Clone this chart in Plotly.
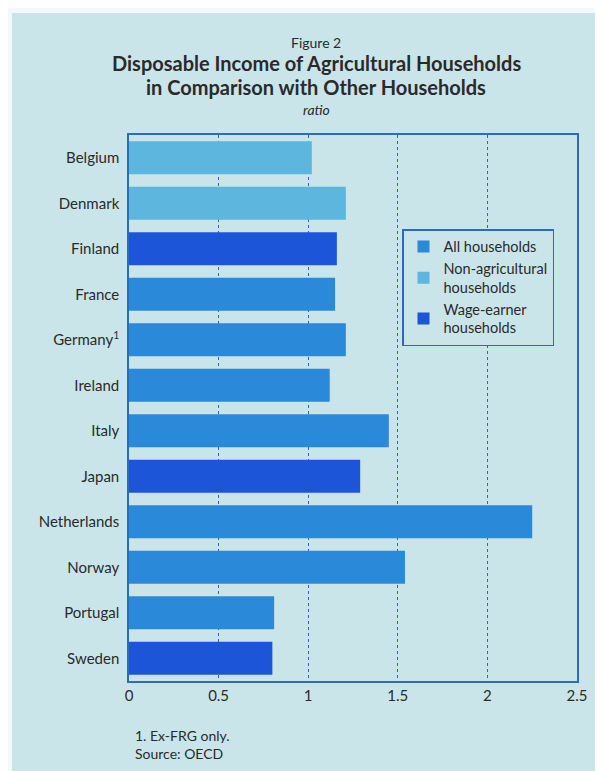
import plotly.graph_objects as go

countries = ["Belgium", "Denmark", "Finland", "France", "Germany", "Ireland",
             "Italy", "Japan", "Netherlands", "Norway", "Portugal", "Sweden"]
country_labels = ["Belgium", "Denmark", "Finland", "France", "Germany<sup>1</sup>", "Ireland",
                  "Italy", "Japan", "Netherlands", "Norway", "Portugal", "Sweden"]
ratios = [1.02, 1.21, 1.16, 1.15, 1.21, 1.12, 1.45, 1.29, 2.25, 1.54, 0.81, 0.80]
groups = ["Non-agricultural", "Non-agricultural", "Wage-earner", "All", "All", "All",
          "All", "Wage-earner", "All", "All", "All", "Wage-earner"]

series_order = ["All", "Non-agricultural", "Wage-earner"]
series_names = {"All": "All households",
                "Non-agricultural": "Non-agricultural<br>households",
                "Wage-earner": "Wage-earner<br>households"}
series_colors = {"All": "#2b89d9", "Non-agricultural": "#5cb6de", "Wage-earner": "#1c55d8"}

x_ticks = [0, 0.5, 1, 1.5, 2, 2.5]
x_ticktext = ["0", "0.5", "1", "1.5", "2", "2.5"]

BG = "#c9e5ea"
FONT = "Lato, 'Open Sans', sans-serif"
TXT = "#2a2a2a"

# page offset of 8px from the html body margin
L, T, R, B = 121, 127, 569, 673
PW, PH = R - L, B - T


def py(page_y):
    return (B - (page_y - 8)) / PH


def px(page_x):
    return ((page_x - 8) - L) / PW


fig = go.Figure()
for g in series_order:
    ys = [c for c, gg in zip(countries, groups) if gg == g]
    xs = [v for v, gg in zip(ratios, groups) if gg == g]
    fig.add_trace(go.Bar(x=xs, y=ys, orientation="h", name=series_names[g],
                         marker=dict(color=series_colors[g], line=dict(width=0)),
                         width=0.72))

fig.update_layout(
    width=603, height=771,
    paper_bgcolor=BG, plot_bgcolor=BG,
    margin=dict(l=L, r=603 - R, t=T, b=771 - B),
    barmode="overlay",
    font=dict(family=FONT, color=TXT, size=15),
    showlegend=True,
    legend=dict(x=px(402), y=py(229), xanchor="left", yanchor="top",
                bgcolor=BG, bordercolor="#2a6cc0", borderwidth=1.5,
                font=dict(size=14.5, color=TXT), tracegroupgap=0,
                itemwidth=30, entrywidth=150, entrywidthmode="pixels"),
    xaxis=dict(range=[0, 2.5], tickvals=x_ticks, ticktext=x_ticktext,
               showgrid=True, gridcolor="#3a62a8", griddash="dot", gridwidth=1,
               showline=True, linecolor="#2a6cc0", linewidth=1.5, mirror=True,
               ticks="", zeroline=False, tickfont=dict(size=15, color=TXT)),
    yaxis=dict(categoryorder="array", categoryarray=countries, autorange="reversed",
               tickvals=countries, ticktext=country_labels,
               showline=True, linecolor="#2a6cc0", linewidth=1.5, mirror=True,
               ticks="", ticklabelstandoff=5, tickfont=dict(size=15, color=TXT)),
    shapes=[
        dict(type="rect", xref="paper", yref="paper", x0=-0.4, x1=1.2,
             y0=py(13), y1=1.4, fillcolor="#f4f8fa", line=dict(width=0), layer="above"),
        dict(type="rect", xref="paper", yref="paper", x0=-0.4, x1=px(12),
             y0=-0.3, y1=1.4, fillcolor="#f4f8fa", line=dict(width=0), layer="above"),
    ],
    annotations=[
        dict(text="Figure 2", x=px(316), y=py(43), xref="paper", yref="paper",
             showarrow=False, xanchor="center", yanchor="middle", font=dict(size=14, color=TXT)),
        dict(text="<b>Disposable Income of Agricultural Households</b>", x=px(316), y=py(63),
             xref="paper", yref="paper", showarrow=False, xanchor="center", yanchor="middle",
             font=dict(size=20, color=TXT)),
        dict(text="<b>in Comparison with Other Households</b>", x=px(316), y=py(87),
             xref="paper", yref="paper", showarrow=False, xanchor="center", yanchor="middle",
             font=dict(size=20, color=TXT)),
        dict(text="<i>ratio</i>", x=px(316), y=py(110), xref="paper", yref="paper",
             showarrow=False, xanchor="center", yanchor="middle", font=dict(size=14, color=TXT)),
        dict(text="1. Ex-FRG only.<br>Source: OECD", x=px(133), y=py(725),
             xref="paper", yref="paper", showarrow=False, xanchor="left", yanchor="top",
             align="left", font=dict(size=14, color=TXT)),
    ],
)

fig.write_html("out.html")
